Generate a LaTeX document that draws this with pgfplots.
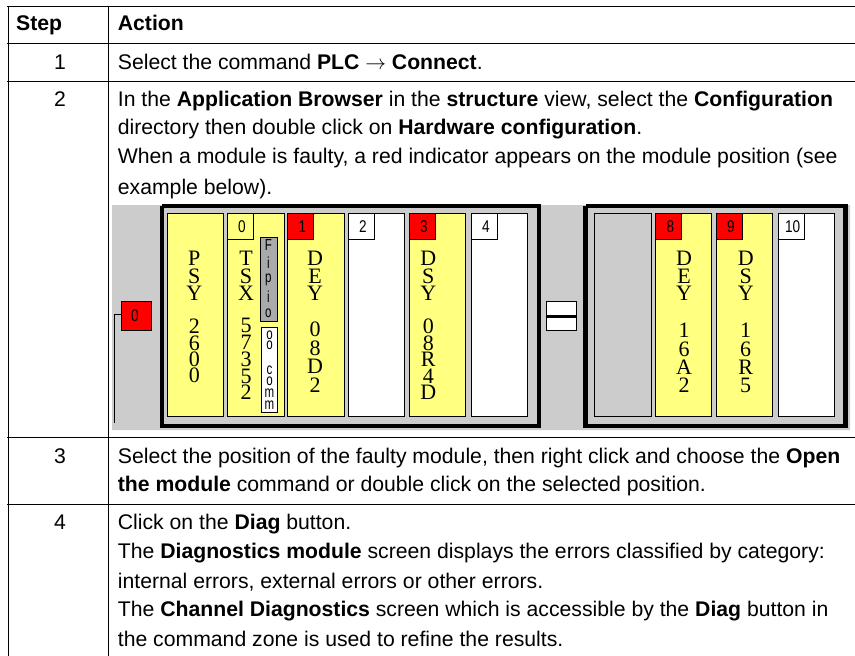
\documentclass[border=0pt]{standalone}
\usepackage{graphicx}
\usepackage{pgfplots}
\pgfplotsset{compat=1.18}
\usepackage{fontspec}
\setmainfont{Liberation Sans}
\newfontfamily\serifface{Liberation Serif}
\definecolor{yel}{RGB}{255,255,128}
\definecolor{gry}{RGB}{204,204,204}
\definecolor{dgry}{RGB}{170,170,170}
\newcommand{\fs}{\fontsize{21.2}{26}\selectfont}
\newcommand{\rect}[5]{\addplot[#5] coordinates {(#1,#2)(#3,#2)(#3,#4)(#1,#4)(#1,#2)};}
\newcommand{\seg}[5]{\addplot[black,line width=#5] coordinates {(#1,#2)(#3,#4)};}
\newcommand{\tx}[3]{\node[anchor=base west,inner sep=0pt,font=\fs] at (axis cs:117.7,#1) {#2};}
\newcommand{\stp}[2]{\node[anchor=base,inner sep=0pt,font=\fs] at (axis cs:60,#1) {#2};}
\newcommand{\lab}[5]{\rect{#1}{213.3}{#2}{239.3}{fill=#3,draw=black,line width=0.8pt}
  \node[inner sep=0pt,font=\fontsize{17}{17}\selectfont] at (axis cs:#4,226.5) {\scalebox{0.8}[1]{#5}};}
\newcommand{\vt}[4][17.5]{\node[anchor=north,inner sep=0pt,align=center,font=\serifface\fontsize{22}{#1}\selectfont] at (axis cs:#2,#3) {#4};}
\newcommand{\ch}[3]{\node[inner sep=0pt,font=\fontsize{#3}{#3}\selectfont] at (axis cs:#1) {\scalebox{0.72}[1]{#2}};}
\begin{document}
\begin{tikzpicture}
\path[use as bounding box] (0,0) rectangle (855pt,656pt);
\begin{axis}[at={(0,0)},anchor=south west,scale only axis,width=855pt,height=656pt,
  xmin=0,xmax=855,ymin=0,ymax=656,y dir=reverse,axis lines=none,clip=false,no marks]
% table rules
\seg{7}{6.5}{855}{6.5}{0.9pt}
\seg{7}{43.3}{855}{43.3}{0.9pt}
\seg{7}{81.3}{855}{81.3}{0.9pt}
\seg{7}{437.3}{855}{437.3}{0.9pt}
\seg{7}{504.3}{855}{504.3}{0.9pt}
\seg{8}{6.5}{8}{656}{0.9pt}
\seg{108.7}{6.5}{108.7}{656}{0.9pt}
% table text
\node[anchor=base west,inner sep=0pt,font=\fs\bfseries] at (axis cs:16,30.7) {Step};
\tx{30.7}{\textbf{Action}}{}
\stp{69}{1}\stp{106}{2}\stp{463.3}{3}\stp{529}{4}
\tx{69}{Select the command \textbf{PLC} $\rightarrow$ \textbf{Connect}.}{}
\tx{106}{In the \textbf{Application Browser} in the \textbf{structure} view, select the \textbf{Configuration}}{}
\tx{134.3}{directory then double click on \textbf{Hardware configuration}.}{}
\tx{163.3}{When a module is faulty, a red indicator appears on the module position (see}{}
\tx{194}{example below).}{}
\tx{463.3}{Select the position of the faulty module, then right click and choose the \textbf{Open}}{}
\tx{491}{\textbf{the module} command or double click on the selected position.}{}
\tx{529}{Click on the \textbf{Diag} button.}{}
\tx{558.3}{The \textbf{Diagnostics module} screen displays the errors classified by category:}{}
\tx{588.3}{internal errors, external errors or other errors.}{}
\tx{616}{The \textbf{Channel Diagnostics} screen which is accessible by the \textbf{Diag} button in}{}
\tx{646}{the command zone is used to refine the results.}{}
% panel
\rect{112}{205}{850}{430}{fill=gry,draw=none}
\rect{162}{206}{539}{426}{fill=gry,draw=black,line width=4.6pt}
\rect{585.5}{206}{845.5}{426}{fill=gry,draw=black,line width=4.6pt}
% modules
\rect{167.3}{213.3}{223.7}{416.7}{fill=yel,draw=black,line width=0.8pt}
\rect{227.3}{213.3}{284.3}{416.7}{fill=yel,draw=black,line width=0.8pt}
\rect{287.3}{213.3}{344}{416.7}{fill=yel,draw=black,line width=0.8pt}
\rect{348.3}{213.3}{404.7}{416.7}{fill=white,draw=black,line width=0.8pt}
\rect{409.3}{213.3}{465.7}{416.7}{fill=yel,draw=black,line width=0.8pt}
\rect{471.3}{213.3}{527.7}{416.7}{fill=white,draw=black,line width=0.8pt}
\rect{594.3}{213.3}{651.7}{416.7}{fill=gry,draw=black,line width=0.8pt}
\rect{655.7}{213.3}{711.7}{416.7}{fill=yel,draw=black,line width=0.8pt}
\rect{716.7}{213.3}{772.7}{416.7}{fill=yel,draw=black,line width=0.8pt}
\rect{778.3}{213.3}{834.7}{416.7}{fill=white,draw=black,line width=0.8pt}
% slot labels
\lab{227.3}{253.7}{yel}{242}{0}
\lab{287.3}{313.7}{red}{302.3}{1}
\lab{348.3}{374.3}{white}{363}{2}
\lab{409.3}{435.7}{red}{424}{3}
\lab{471.3}{497.7}{white}{486}{4}
\lab{655.7}{681.7}{red}{670.5}{8}
\lab{716.7}{742.7}{red}{731}{9}
\lab{778.3}{804.7}{white}{792.7}{10}
% module names
\vt{194.3}{251}{P\\S\\Y}\vt[16.4]{194.3}{319}{2\\6\\0\\0}
\vt{246}{251}{T\\S\\X}\vt[16.8]{246}{318}{5\\7\\3\\5\\2}
\vt{315}{251}{D\\E\\Y}\vt[18.5]{315}{322}{0\\8\\D\\2}
\vt{428.3}{251}{D\\S\\Y}\vt[16.5]{428.3}{319}{0\\8\\R\\4\\D}
\vt{684}{251}{D\\E\\Y}\vt[18.3]{684}{323}{1\\6\\A\\2}
\vt{745.7}{251}{D\\S\\Y}\vt[18.3]{745.7}{323}{1\\6\\R\\5}
% Fipio and comm
\rect{260.3}{237.3}{277}{321.7}{fill=dgry,draw=black,line width=0.8pt}
\ch{268.3,245}{F}{16}\ch{268.3,263}{i}{16}\ch{268.3,280}{p}{16}\ch{268.3,297}{i}{16}\ch{268.3,313}{o}{16}
\rect{261.3}{327.7}{277.7}{412.3}{fill=white,draw=black,line width=0.8pt}
\ch{269.5,335}{o}{16}\ch{269.5,345.7}{o}{16}\ch{269.5,370}{c}{16}\ch{269.5,381.7}{o}{16}\ch{269.5,393.3}{m}{16}\ch{269.5,405}{m}{16}
% left indicator
\seg{114.3}{314.3}{114.3}{423.3}{0.8pt}
\seg{114.3}{314.3}{122}{314.3}{0.8pt}
\rect{121.3}{301.7}{151.3}{330.7}{fill=red,draw=black,line width=0.8pt}
\node[inner sep=0pt,font=\fontsize{17}{17}\selectfont] at (axis cs:135,315.5) {\scalebox{0.8}[1]{0}};
% link box
\rect{546.3}{301.7}{576.3}{330.7}{fill=white,draw=black,line width=0.8pt}
\seg{546.3}{316.7}{576.3}{316.7}{3.2pt}
\end{axis}
\end{tikzpicture}
\end{document}
